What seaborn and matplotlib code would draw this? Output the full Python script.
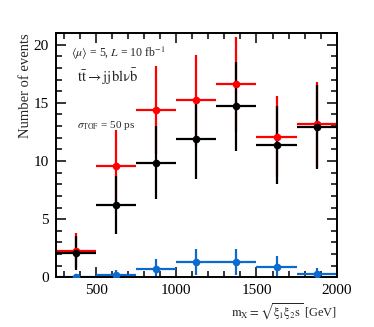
import numpy as np
import pandas as pd
import matplotlib
matplotlib.use("Agg")
import matplotlib.pyplot as plt
import seaborn as sns
from matplotlib.ticker import MultipleLocator

# bin centres (GeV) and half-widths
mass = [375, 625, 875, 1125, 1375, 1625, 1875]
half_width = 125
red_vals = [2.3, 9.6, 14.4, 15.2, 16.6, 12.1, 13.15]
black_vals = [2.1, 6.2, 9.85, 11.85, 14.7, 11.35, 12.95]
blue_vals = [0.02, 0.2, 0.72, 1.3, 1.3, 0.9, 0.26]

series = [("red", red_vals, "#ff0000"), ("black", black_vals, "#000000"), ("blue", blue_vals, "#0a6ad0")]

sns.set_style("ticks")
plt.rcParams["font.family"] = ["Liberation Serif", "DejaVu Serif"]
plt.rcParams["mathtext.fontset"] = "stix"

fig = plt.figure(figsize=(3.74, 3.27), dpi=100)
ax = fig.add_axes([0.1497, 0.152, 0.7505, 0.747])

for name, vals, col in series:
    v = np.array(vals)
    err = np.sqrt(v)
    ax.errorbar(mass, v, yerr=err, xerr=half_width, fmt="none", ecolor=col,
                elinewidth=1.6, capsize=0, zorder=2)
    df = pd.DataFrame({"m": mass, "n": v})
    sns.scatterplot(data=df, x="m", y="n", ax=ax, color=col, s=30,
                    edgecolor=col, linewidth=0, zorder=3, legend=False)

ax.set_xlim(250, 2000)
ax.set_ylim(0, 21)
ax.xaxis.set_major_locator(MultipleLocator(500))
ax.xaxis.set_minor_locator(MultipleLocator(100))
ax.yaxis.set_major_locator(MultipleLocator(5))
ax.yaxis.set_minor_locator(MultipleLocator(1))
ax.tick_params(which="both", direction="in", top=True, right=True,
               labelsize=11, width=1.1, colors="black")
ax.tick_params(which="major", length=7, pad=5)
ax.tick_params(which="minor", length=4)
for s in ax.spines.values():
    s.set_linewidth(1.4)
    s.set_color("black")

ax.set_xlabel(r"$\mathrm{m_X = \sqrt{\xi_1 \xi_2 s}}$ [GeV]", fontsize=9,
              loc="right", labelpad=3)
ax.set_ylabel("Number of events", fontsize=10.5, loc="top", labelpad=1.5)

ax.text(0.053, 0.917, r"$\langle\mu\rangle$ = 5, $L$ = 10 fb$^{-1}$",
        transform=ax.transAxes, fontsize=8.5, va="center", ha="left")
ax.text(0.075, 0.82, r"$\mathrm{t\bar{t} \rightarrow jjbl\nu\bar{b}}$",
        transform=ax.transAxes, fontsize=10.5, va="center", ha="left")
ax.text(0.075, 0.62, r"$\sigma_{\mathrm{TOF}}$ = 50 ps",
        transform=ax.transAxes, fontsize=8, va="center", ha="left")

fig.savefig("out.png", dpi=100)
